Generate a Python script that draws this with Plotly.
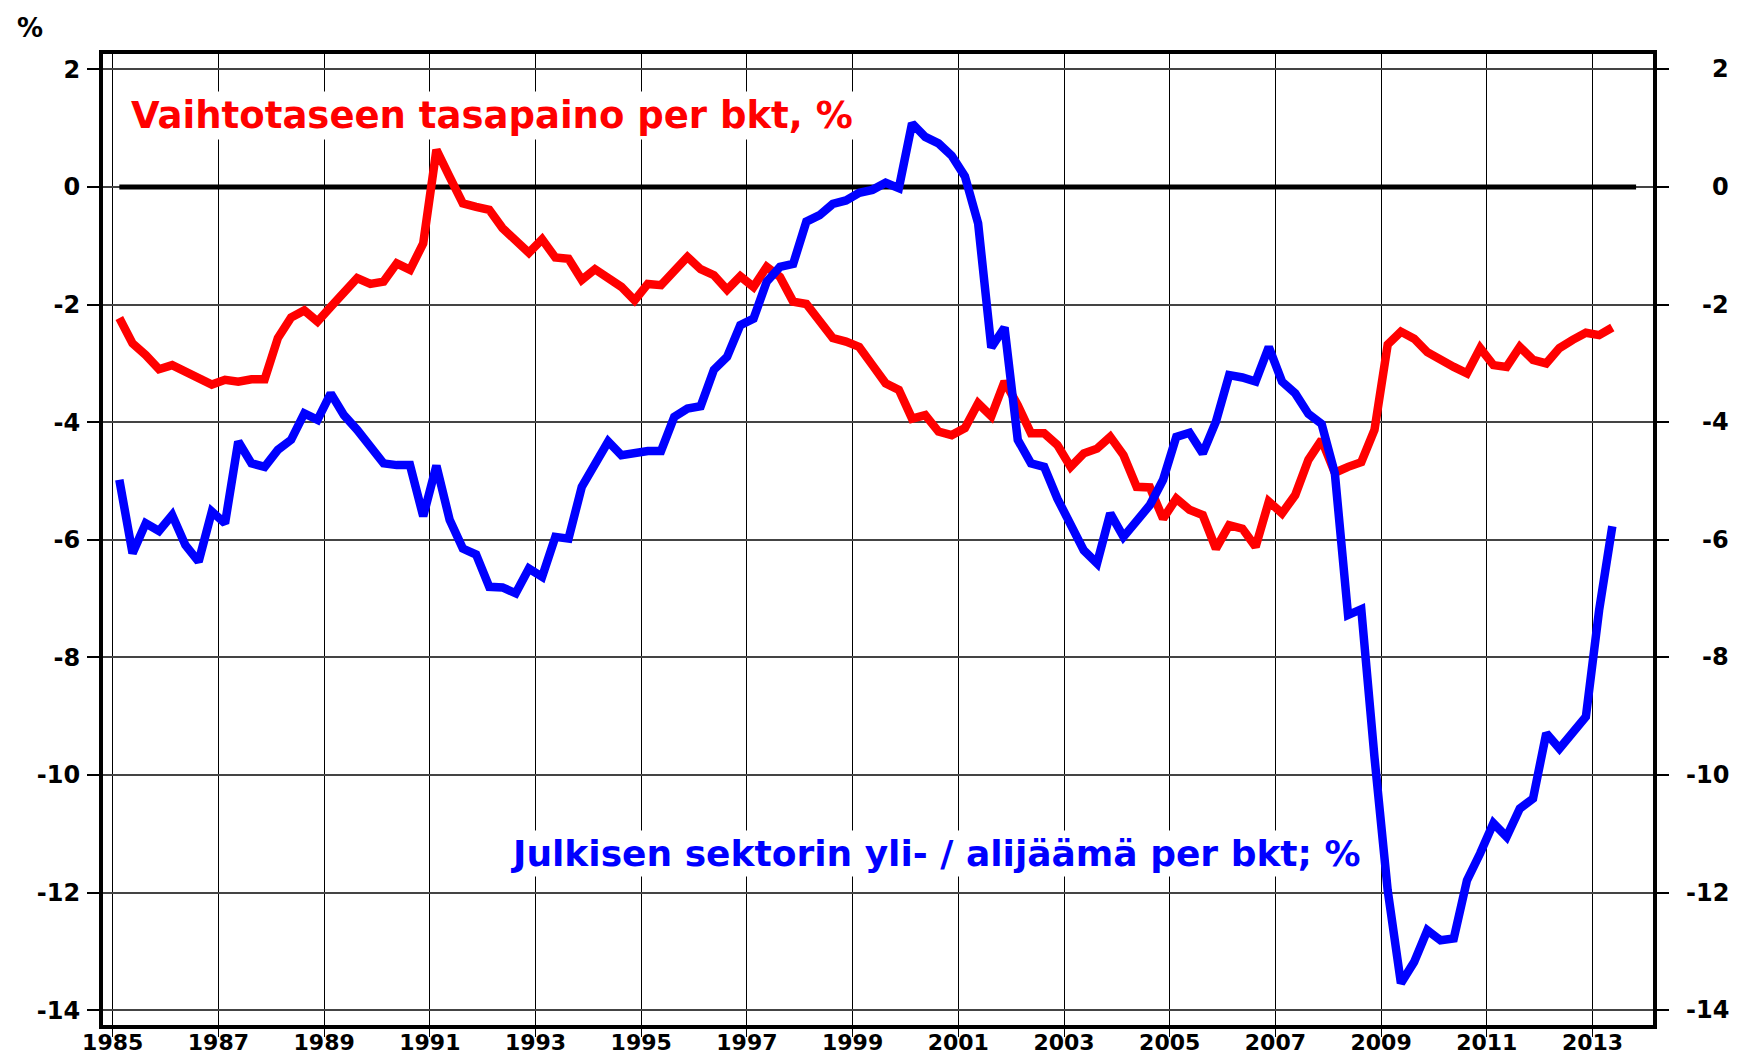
import plotly.graph_objects as go

# Quarterly periods 1985Q1 .. 2013Q2
start_year, end_year, end_q = 1985, 2013, 2
quarters = [(y, q) for y in range(start_year, end_year + 1) for q in range(1, 5)
            if not (y == end_year and q > end_q)]
x_time = [y + (q - 0.5) / 4 for (y, q) in quarters]

current_account = [
    -2.23, -2.66, -2.86, -3.10, -3.03, -3.14, -3.28, -3.36, -3.28, -3.31,
    -3.27, -3.27, -2.57, -2.22, -2.10, -2.29, -2.04, -1.78, -1.55, -1.65,
    -1.61, -1.30, -1.41, -0.96, 0.63, 0.17, -0.28, -0.34, -0.39, -0.70,
    -0.90, -1.12, -0.89, -1.20, -1.22, -1.58, -1.40, -1.55, -1.70, -1.93,
    -1.65, -1.67, -1.41, -1.19, -1.40, -1.50, -1.75, -1.52, -1.70, -1.36,
    -1.53, -1.95, -1.99, -2.29, -2.57, -2.63, -2.72, -3.03, -3.34, -3.45,
    -3.94, -3.88, -4.16, -4.22, -4.10, -3.68, -3.90, -3.31, -3.71, -4.19,
    -4.19, -4.39, -4.76, -4.53, -4.45, -4.25, -4.56, -5.10, -5.11, -5.64,
    -5.30, -5.49, -5.58, -6.15, -5.75, -5.81, -6.12, -5.35, -5.55, -5.24,
    -4.64, -4.30, -4.86, -4.76, -4.68, -4.13, -2.68, -2.46, -2.58, -2.81,
    -2.95, -3.06, -3.17, -2.74, -3.03, -3.06, -2.72, -2.94, -3.00, -2.74,
    -2.60, -2.48, -2.52, -2.39,
]

public_balance = [
    -4.98, -6.23, -5.72, -5.85, -5.58, -6.09, -6.37, -5.52, -5.72, -4.33,
    -4.70, -4.76, -4.47, -4.30, -3.85, -3.96, -3.51, -3.88, -4.13, -4.42,
    -4.70, -4.73, -4.73, -5.60, -4.74, -5.66, -6.15, -6.25, -6.80, -6.81,
    -6.91, -6.49, -6.63, -5.95, -5.98, -5.10, -4.70, -4.33, -4.56, -4.52,
    -4.49, -4.49, -3.91, -3.77, -3.73, -3.11, -2.89, -2.35, -2.24, -1.61,
    -1.36, -1.31, -0.59, -0.48, -0.29, -0.23, -0.10, -0.05, 0.07, -0.02,
    1.08, 0.85, 0.74, 0.53, 0.18, -0.62, -2.73, -2.39, -4.30, -4.70,
    -4.76, -5.30, -5.75, -6.18, -6.40, -5.55, -5.95, -5.66, -5.41, -4.98,
    -4.25, -4.18, -4.53, -3.99, -3.20, -3.24, -3.31, -2.72, -3.31, -3.51,
    -3.86, -4.03, -4.87, -7.28, -7.18, -9.70, -11.96, -13.54, -13.18, -12.64,
    -12.81, -12.78, -11.79, -11.33, -10.82, -11.05, -10.57, -10.40, -9.29, -9.55,
    -9.27, -9.01, -7.20, -5.77,
]

y_ticks = [2, 0, -2, -4, -6, -8, -10, -12, -14]
x_tick_years = list(range(1985, 2014, 2))

red_label = "Vaihtotaseen tasapaino per bkt, %"
blue_label = "Julkisen sektorin yli- / alijäämä per bkt; %"

FONT = "DejaVu Sans"

fig = go.Figure()

# zero reference line
fig.add_trace(go.Scatter(
    x=[x_time[0], x_time[-1] + 0.45], y=[0, 0], mode="lines",
    line=dict(color="black", width=5), showlegend=False, hoverinfo="skip"))

fig.add_trace(go.Scatter(
    x=x_time, y=current_account, mode="lines", name=red_label,
    line=dict(color="#ff0000", width=8.5), showlegend=False))

fig.add_trace(go.Scatter(
    x=x_time, y=public_balance, mode="lines", name=blue_label,
    line=dict(color="#0000ff", width=8.5), showlegend=False))

fig.update_layout(
    width=1738, height=1056,
    margin=dict(l=95, r=93, t=46, b=39, autoexpand=False),
    paper_bgcolor="white", plot_bgcolor="white",
    font=dict(family=FONT, color="black"),
    xaxis=dict(
        range=[1984.816, 2014.145],
        tickvals=x_tick_years, ticktext=[str(v) for v in x_tick_years],
        showgrid=True, gridcolor="black", gridwidth=1,
        showline=True, linecolor="black", linewidth=4, mirror=True,
        ticks="outside", ticklen=8, tickwidth=1, tickcolor="black",
        tickfont=dict(size=22, family=FONT, color="black", weight="bold"),
        ticklabelstandoff=-13,
        zeroline=False, automargin=False,
    ),
    yaxis=dict(
        range=[-14.25, 2.26],
        tickvals=y_ticks, ticktext=[str(v) for v in y_ticks],
        showgrid=True, gridcolor="#444444", gridwidth=1.5,
        showline=True, linecolor="black", linewidth=4, mirror="ticks",
        ticks="outside", ticklen=12, tickwidth=1.5, tickcolor="black",
        tickfont=dict(size=24, family=FONT, color="black", weight="bold"),
        ticklabelstandoff=2,
        zeroline=False, automargin=False,
    ),
)

annotations = []
# right-hand tick labels (right aligned)
for v in y_ticks:
    annotations.append(dict(
        x=1.0503, xref="paper", y=v, yref="y", text=str(v), showarrow=False,
        xanchor="right", yanchor="middle",
        font=dict(size=24, family=FONT, color="black", weight="bold")))

annotations.append(dict(
    x=-0.047, xref="paper", y=1.0443, yref="paper", text="%", showarrow=False,
    xanchor="center", yanchor="top",
    font=dict(size=26, family=FONT, color="black", weight="bold")))

annotations.append(dict(
    x=1985.29, xref="x", y=1.21, yref="y", text=red_label, showarrow=False,
    xanchor="left", yanchor="middle", bgcolor="white", borderpad=2,
    font=dict(size=37, family=FONT, color="#ff0000", weight="bold")))

annotations.append(dict(
    x=1992.455, xref="x", y=-11.33, yref="y", text=blue_label, showarrow=False,
    xanchor="left", yanchor="middle", bgcolor="white", borderpad=2,
    font=dict(size=36, family=FONT, color="#0000ff", weight="bold")))

fig.update_layout(annotations=annotations)

fig.write_html("out.html")
